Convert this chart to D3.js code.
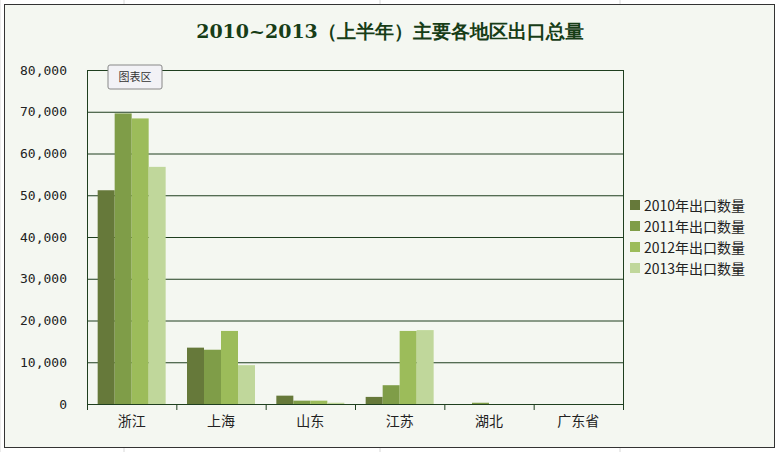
<!DOCTYPE html>
<html><head><meta charset="utf-8">
<script src="https://cdn.jsdelivr.net/npm/d3@7"></script>
<style>body{margin:0;background:#fff}</style>
</head><body>
<svg id="chart" width="779" height="452"></svg>
<script>
var regions = ["浙江", "上海", "山东", "江苏", "湖北", "广东省"];
var seriesNames = ["2010年出口数量", "2011年出口数量", "2012年出口数量", "2013年出口数量"];
var v2010 = [51200, 13500, 2000, 1700, 0, 0];
var v2011 = [69600, 13000, 800, 4500, 300, 0];
var v2012 = [68400, 17500, 800, 17500, 0, 0];
var v2013 = [56800, 9300, 300, 17700, 0, 0];
var colors = ["#66793a", "#7f9d48", "#9cbc5a", "#c0d79b"];
var yTicks = [0, 10000, 20000, 30000, 40000, 50000, 60000, 70000, 80000];

var series = [v2010, v2011, v2012, v2013];
var svg = d3.select("#chart");

// sheet gridlines behind the chart
[0, 124, 380, 620, 878].forEach(function (x) {
    svg.append("line").attr("x1", x).attr("x2", x).attr("y1", 0).attr("y2", 452).attr("stroke", "#d8d8d8");
});
svg.append("rect").attr("x", 4.5).attr("y", 4.5).attr("width", 770).attr("height", 443)
    .attr("fill", "#f4f7f1").attr("stroke", "#333");

svg.append("text").attr("x", 390).attr("y", 38).attr("text-anchor", "middle")
    .attr("font-family", "DejaVu Serif, serif").attr("font-weight", "bold").attr("font-size", 19)
    .attr("fill", "#173d17").text("2010~2013（上半年）主要各地区出口总量");

var L = 87, R = 623, T = 70, B = 404;
var x = d3.scaleBand().domain(regions).range([L, R]);
var xi = d3.scaleBand().domain(d3.range(4)).range([0, 68]);
var y = d3.scaleLinear().domain([0, 80000]).range([B, T]);

var g = svg.append("g");
g.selectAll(".grid").data(yTicks).enter().append("line")
    .attr("x1", L).attr("x2", R).attr("y1", d => y(d) + .5).attr("y2", d => y(d) + .5)
    .attr("stroke", "#1f3f1f");
g.append("line").attr("x1", R + .5).attr("x2", R + .5).attr("y1", T).attr("y2", B).attr("stroke", "#1f3f1f");
g.append("line").attr("x1", L + .5).attr("x2", L + .5).attr("y1", T).attr("y2", B).attr("stroke", "#1f3f1f");

series.forEach(function (s, i) {
    g.selectAll(".b" + i).data(s).enter().append("rect")
        .attr("x", (d, j) => x(regions[j]) + (x.bandwidth() - 68) / 2 + xi(i))
        .attr("width", xi.bandwidth())
        .attr("y", d => y(d)).attr("height", d => B - y(d))
        .attr("fill", colors[i]);
});

var ya = d3.axisLeft(y).tickValues(yTicks).tickSize(0).tickPadding(20)
    .tickFormat(d => d3.format(",")(d));
svg.append("g").attr("transform", "translate(" + L + ",0)").call(ya)
    .call(a => a.select(".domain").remove())
    .selectAll("text").attr("font-family", "DejaVu Sans Mono, monospace").attr("font-size", 13).attr("fill", "#222");

var xa = d3.axisBottom(x).tickSize(0).tickPadding(12);
var xg = svg.append("g").attr("transform", "translate(0," + B + ")").call(xa);
xg.select(".domain").remove();
xg.selectAll("text").attr("font-family", "Noto Sans CJK SC").attr("font-size", 14).attr("fill", "#222");
xg.selectAll(".sep").data(d3.range(7)).enter().append("line")
    .attr("x1", d => L + d * x.step() + .5).attr("x2", d => L + d * x.step() + .5)
    .attr("y1", 0).attr("y2", 6).attr("stroke", "#1f3f1f");

var lg = svg.append("g").attr("transform", "translate(630,200)");
seriesNames.forEach(function (n, i) {
    lg.append("rect").attr("x", 0).attr("y", i * 21).attr("width", 10).attr("height", 10).attr("fill", colors[i]);
    lg.append("text").attr("x", 14).attr("y", i * 21 + 11).attr("font-family", "Noto Sans CJK SC")
        .attr("font-size", 14).attr("fill", "#222").text(n);
});

var tip = svg.append("g").attr("transform", "translate(108,65)");
tip.append("rect").attr("width", 54).attr("height", 24).attr("rx", 2).attr("fill", "#f2f2f6").attr("stroke", "#888");
tip.append("text").attr("x", 27).attr("y", 16).attr("text-anchor", "middle").attr("font-family", "Noto Sans CJK SC")
    .attr("font-size", 11).attr("fill", "#333").text("图表区");
</script>
</body></html>
